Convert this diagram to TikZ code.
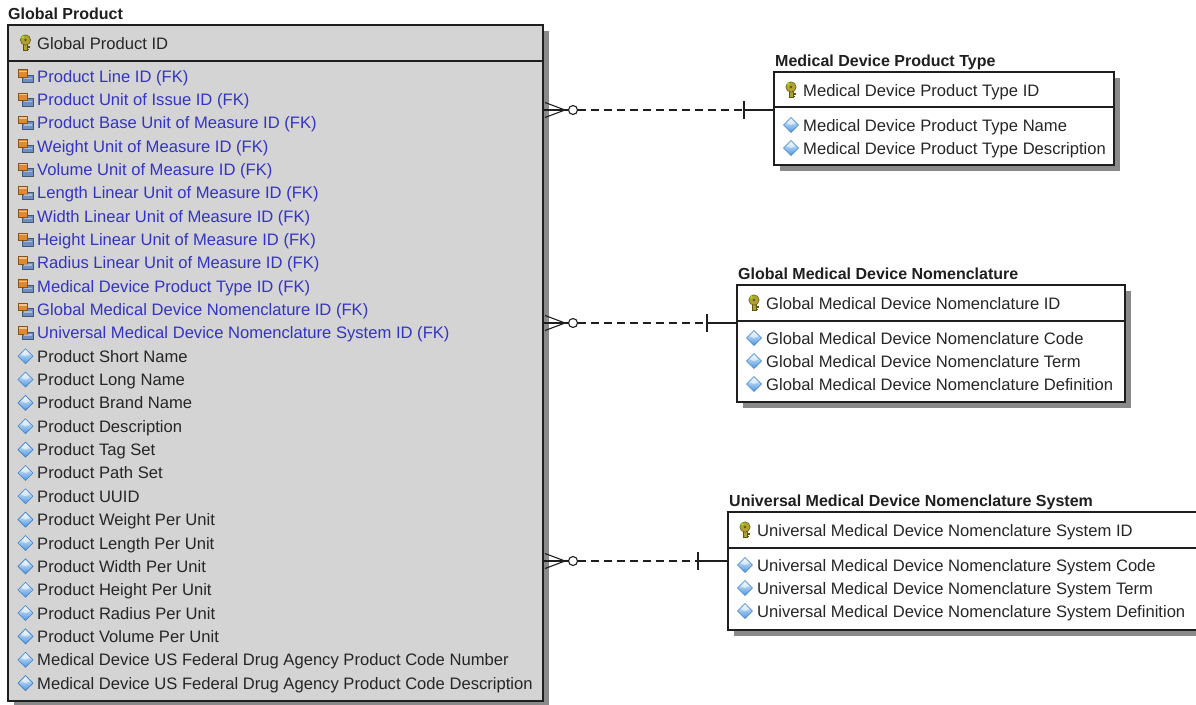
\documentclass[tikz,border=0pt]{standalone}
\usepackage{fontspec}
\setmainfont{Liberation Sans}
\usetikzlibrary{calc,shadows}
\definecolor{boxgrey}{HTML}{D4D4D4}
\definecolor{shadowgrey}{HTML}{8A8A8A}
\definecolor{linec}{HTML}{1E1E1E}
\definecolor{fkblue}{HTML}{3434C4}
\definecolor{txt}{HTML}{262626}
\definecolor{pkfill}{HTML}{B0A232}
\definecolor{pkdraw}{HTML}{5E5610}
\definecolor{fkorange}{HTML}{E08A30}
\definecolor{fkblueicon}{HTML}{6F8FC0}
\definecolor{attrtop}{HTML}{E4F2FF}
\definecolor{attrbot}{HTML}{4E96DE}
\definecolor{attrdraw}{HTML}{3F7FC4}
\newcommand\erlinkdraw[2]{%
  \draw[linkline] ($(#1)+(2,-7.5)$) -- ($(#1)+(22,0)$) -- ($(#1)+(2,7.5)$);
  \draw[linkline] (#1) -- ($(#1)+(26,0)$);
  \draw[linkline, fill=white] ($(#1)+(30,0)$) circle[radius=4.5pt];
  \draw[linkline, dash pattern=on 8pt off 5pt] ($(#1)+(34.5,0)$) -- ($(#2)+(-30,0)$);
  \draw[linkline] ($(#2)+(-30,-9)$) -- ($(#2)+(-30,9)$);
  \draw[linkline] ($(#2)+(-30,0)$) -- (#2);
}
\begin{document}
\begin{tikzpicture}[x=1pt,y=-1pt,
  entbox/.style={draw=linec, line width=1.4pt, rectangle, inner sep=0pt, outer sep=0pt, anchor=north west,
     drop shadow={shadow xshift=6pt, shadow yshift=-6pt, fill=shadowgrey, opacity=1}},
  rowtext/.style={anchor=base west, inner sep=0pt, font=\fontsize{16.6pt}{20pt}\selectfont, text=txt},
  fktext/.style={rowtext, text=fkblue},
  enttitle/.style={anchor=base west, inner sep=0pt, font=\fontsize{16pt}{19pt}\selectfont\bfseries, text=black!88},
  sepline/.style={draw=linec, line width=1.4pt},
  linkline/.style={draw=linec, line width=1.1pt},
  pkicon/.pic={
    \fill[pkfill, draw=pkdraw, line width=0.5pt] (-2,-1) rectangle (2,7.5);
    \fill[pkdraw] (2,3) rectangle (4.5,4.5);
    \fill[pkdraw] (2,5.6) rectangle (3.8,6.9);
    \filldraw[fill=pkfill, draw=pkdraw, line width=0.5pt] (0,-3) circle[radius=5.2pt];
    \fill[pkdraw] (0,-3) circle[radius=1.4pt];
    \fill[green!45!yellow, opacity=0.7] (-2.8,-6) circle[radius=1.7pt];
  },
  fkicon/.pic={
    \filldraw[fill=fkblueicon, draw=fkblueicon!60!black, line width=0.5pt] (-3,-1) rectangle (7.5,6.5);
    \filldraw[fill=fkorange, draw=fkorange!60!black, line width=0.5pt] (-7.5,-6.5) rectangle (2,1);
    \fill[white, opacity=0.5] (-6.5,-5.5) rectangle (1,-4);
    \fill[white, opacity=0.4] (-2,1.5) rectangle (6.5,3);
  },
  attricon/.pic={
    \shade[top color=attrtop, bottom color=attrbot, draw=attrdraw, line width=0.6pt]
      (0,-7.5) -- (7.5,0) -- (0,7.5) -- (-7.5,0) -- cycle;
    \fill[white, opacity=0.55] (0,-6) -- (4.3,-1.7) -- (0,0) -- (-4.3,-1.7) -- cycle;
  }
]
\useasboundingbox (0,0) rectangle (1196,704);
\fill[white] (0,0) rectangle (1196,704);

% ---------------- Global Product ----------------
\node[enttitle] (gp-title) at (8,19) {Global Product};
\node[entbox, fill=boxgrey, minimum width=535pt, minimum height=676pt] (gp) at (8,25) {};
\draw[sepline] (gp.west |- 0,61) -- (gp.east |- 0,61);
\pic at (25.5,43) {pkicon};
\node[rowtext] (gp-id) at (37,49) {Global Product ID};
\foreach \t [count=\i] in {
  Product Line ID (FK),
  Product Unit of Issue ID (FK),
  Product Base Unit of Measure ID (FK),
  Weight Unit of Measure ID (FK),
  Volume Unit of Measure ID (FK),
  Length Linear Unit of Measure ID (FK),
  Width Linear Unit of Measure ID (FK),
  Height Linear Unit of Measure ID (FK),
  Radius Linear Unit of Measure ID (FK),
  Medical Device Product Type ID (FK),
  Global Medical Device Nomenclature ID (FK),
  Universal Medical Device Nomenclature System ID (FK)}{
  \pgfmathsetmacro\yy{76+(\i-1)*23.35}
  \pic at (25.5,\yy) {fkicon};
  \node[fktext] (gp-fk\i) at (37,\yy+6) {\t};
}
\foreach \t [count=\i] in {
  Product Short Name,
  Product Long Name,
  Product Brand Name,
  Product Description,
  Product Tag Set,
  Product Path Set,
  Product UUID,
  Product Weight Per Unit,
  Product Length Per Unit,
  Product Width Per Unit,
  Product Height Per Unit,
  Product Radius Per Unit,
  Product Volume Per Unit,
  Medical Device US Federal Drug Agency Product Code Number,
  Medical Device US Federal Drug Agency Product Code Description}{
  \pgfmathsetmacro\yy{76+(\i+11)*23.35}
  \pic at (25.5,\yy) {attricon};
  \node[rowtext] (gp-at\i) at (37,\yy+6) {\t};
}

% ---------------- Medical Device Product Type ----------------
\node[enttitle] (mdpt-title) at (775,66) {Medical Device Product Type};
\node[entbox, fill=white, minimum width=340pt, minimum height=93pt] (mdpt) at (774,72) {};
\draw[sepline] (mdpt.west |- 0,107) -- (mdpt.east |- 0,107);
\pic at (791,90) {pkicon};
\node[rowtext] (mdpt-id) at (803,96) {Medical Device Product Type ID};
\pic at (791,125) {attricon};
\node[rowtext] (mdpt-a1) at (803,131) {Medical Device Product Type Name};
\pic at (791,148) {attricon};
\node[rowtext] (mdpt-a2) at (803,154) {Medical Device Product Type Description};

% ---------------- Global Medical Device Nomenclature ----------------
\node[enttitle] (gmdn-title) at (738,279) {Global Medical Device Nomenclature};
\node[entbox, fill=white, minimum width=388pt, minimum height=117pt] (gmdn) at (737,285) {};
\draw[sepline] (gmdn.west |- 0,321) -- (gmdn.east |- 0,321);
\pic at (754,303) {pkicon};
\node[rowtext] (gmdn-id) at (766,309) {Global Medical Device Nomenclature ID};
\pic at (754,338) {attricon};
\node[rowtext] (gmdn-a1) at (766,344) {Global Medical Device Nomenclature Code};
\pic at (754,361) {attricon};
\node[rowtext] (gmdn-a2) at (766,367) {Global Medical Device Nomenclature Term};
\pic at (754,384) {attricon};
\node[rowtext] (gmdn-a3) at (766,390) {Global Medical Device Nomenclature Definition};

% ---------------- Universal Medical Device Nomenclature System ----------------
\node[enttitle] (umdns-title) at (729,506) {Universal Medical Device Nomenclature System};
\node[entbox, fill=white, minimum width=474pt, minimum height=118pt] (umdns) at (728,512) {};
\draw[sepline] (umdns.west |- 0,548) -- (umdns.east |- 0,548);
\pic at (745,530) {pkicon};
\node[rowtext] (umdns-id) at (757,536) {Universal Medical Device Nomenclature System ID};
\pic at (745,565) {attricon};
\node[rowtext] (umdns-a1) at (757,571) {Universal Medical Device Nomenclature System Code};
\pic at (745,588) {attricon};
\node[rowtext] (umdns-a2) at (757,594) {Universal Medical Device Nomenclature System Term};
\pic at (745,611) {attricon};
\node[rowtext] (umdns-a3) at (757,617) {Universal Medical Device Nomenclature System Definition};

% ---------------- Relationships ----------------
\coordinate (l1) at (gp.east |- 0,110);
\coordinate (r1) at (mdpt.west |- 0,110);
\coordinate (l2) at (gp.east |- 0,323);
\coordinate (r2) at (gmdn.west |- 0,323);
\coordinate (l3) at (gp.east |- 0,561);
\coordinate (r3) at (umdns.west |- 0,561);
\erlinkdraw{l1}{r1}
\erlinkdraw{l2}{r2}
\erlinkdraw{l3}{r3}
\end{tikzpicture}
\end{document}
